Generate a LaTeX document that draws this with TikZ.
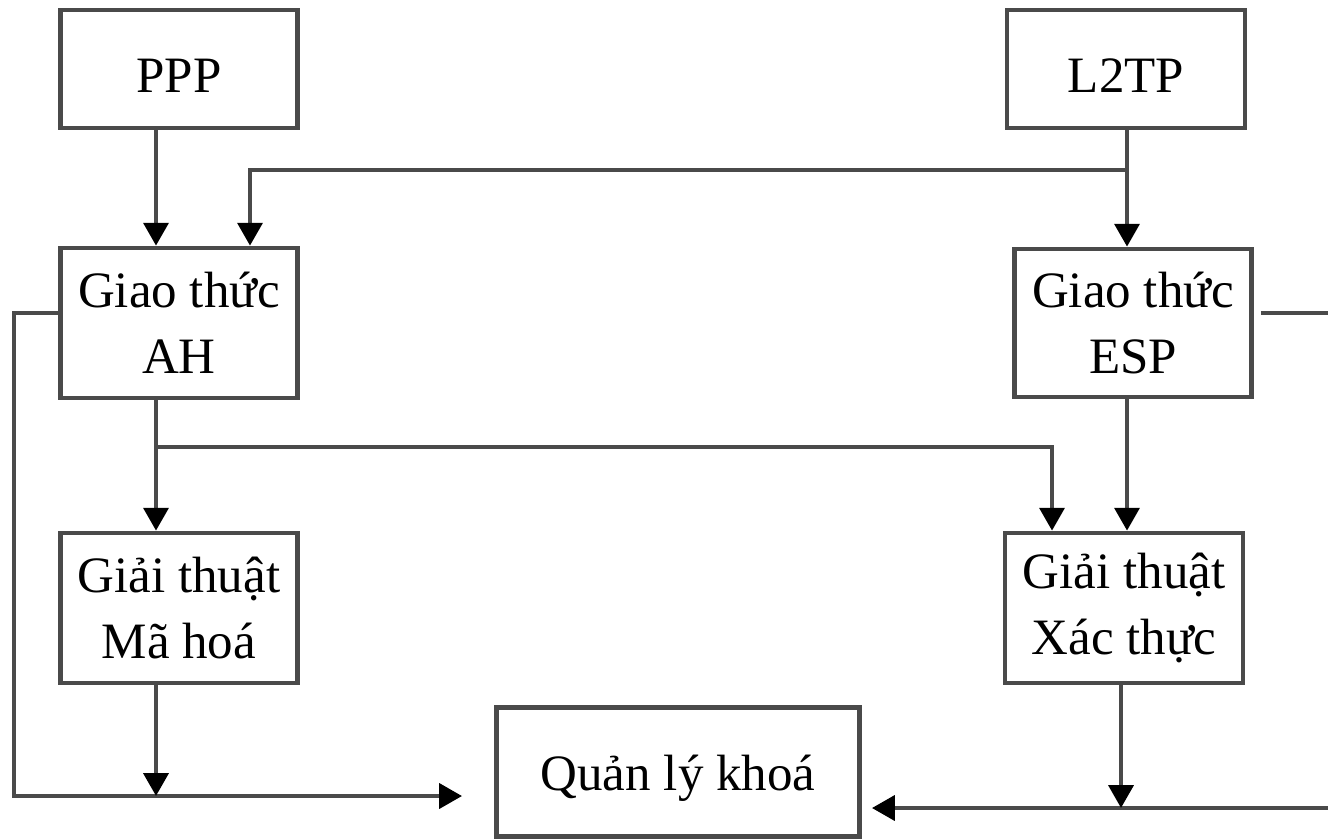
\documentclass[tikz,border=0pt]{standalone}
\usepackage{fontspec}
\setmainfont{Liberation Serif}
\usetikzlibrary{arrows.meta, positioning, calc}
\definecolor{lngray}{HTML}{4A4A4A}

\begin{document}
\begin{tikzpicture}[
  x=0.01cm, y=-0.01cm,
  block/.style={rectangle, draw=lngray, line width=1.3pt, fill=white, minimum width=2.37cm, minimum height=1.5cm, font=\fontsize{14.5}{18.8}\selectfont, align=center, inner sep=0pt},
  single/.style={text height=0.47cm},
  arr/.style={-{Triangle[length=6.5pt, width=7pt, black]}, line width=1.3pt, lngray},
]
  \useasboundingbox (0,0) rectangle (1328,839);

  % Top layer
  \node[block, single, minimum height=1.18cm] (ppp) at (179, 69) {PPP};
  \node[block, single, minimum height=1.18cm, minimum width=2.38cm] (l2tp) at (1126, 69) {L2TP};

  % Protocol layer
  \node[block] (ah) at (179, 323) {Giao thức\\AH};
  \node[block, minimum height=1.48cm] (esp) at (1133, 323) {Giao thức\\ESP};

  % Algorithm layer
  \node[block] (mahoa) at (179, 608) {Giải thuật\\Mã hoá};
  \node[block, minimum width=2.38cm] (xacthuc) at (1124, 608) {Giải thuật\\Xác thực};

  % Key layer
  \node[block, single, minimum width=3.63cm, minimum height=1.29cm] (qlk) at (678, 772) {Quản lý khoá};

  % Columns and rows
  \coordinate (colA) at (156, 0);
  \coordinate (colB) at (250, 0);
  \coordinate (colC) at (1127, 0);
  \coordinate (colD) at (1052, 0);
  \coordinate (colE) at (1121, 0);
  \coordinate (rowAH) at (0, 313);
  \coordinate (botL) at (0, 796);
  \coordinate (botR) at (0, 808);
  \coordinate (jL2TP) at (1127, 170);
  \coordinate (jAH) at (156, 447);
  \coordinate (xL) at (14, 796);
  \coordinate (xR) at (1400, 808);

  % Arrows
  \draw[arr] (ppp.south -| colA) -- (ah.north -| colA);
  \draw[arr] (l2tp.south -| colC) -- (esp.north -| colC);
  \draw[arr] (jL2TP) -| (ah.north -| colB);
  \draw[arr] (ah.south -| colA) -- (mahoa.north -| colA);
  \draw[arr] (jAH) -| (xacthuc.north -| colD);
  \draw[arr] (esp.south -| colC) -- (xacthuc.north -| colC);
  \draw[arr, shorten >=0.32cm] (ah.west |- rowAH) -| (xL) -- (qlk.west |- botL);
  \draw[arr, shorten >=0.1cm, shorten <=0.07cm] (esp.east |- rowAH) -| (xR) -- (qlk.east |- botR);
  \draw[arr] (mahoa.south -| colA) -- (colA |- botL);
  \draw[arr] (xacthuc.south -| colE) -- (colE |- botR);
\end{tikzpicture}
\end{document}
